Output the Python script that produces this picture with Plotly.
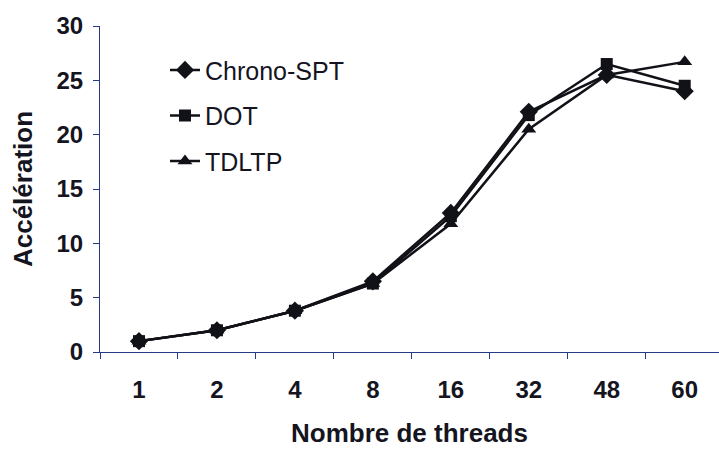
import plotly.graph_objects as go

threads = ["1", "2", "4", "8", "16", "32", "48", "60"]
chrono_spt = [1.0, 2.0, 3.8, 6.5, 12.8, 22.1, 25.5, 24.0]
dot = [1.0, 2.0, 3.8, 6.3, 12.5, 21.8, 26.5, 24.5]
tdltp = [1.0, 2.0, 3.8, 6.3, 11.8, 20.5, 25.5, 26.7]

series = [
    ("Chrono-SPT", chrono_spt, "diamond", 14),
    ("DOT", dot, "square", 12),
    ("TDLTP", tdltp, "triangle-up", 13),
]

fig = go.Figure()
for name, vals, sym, sz in series:
    fig.add_trace(go.Scatter(
        x=threads, y=vals, name=name, mode="lines+markers",
        line=dict(color="#111118", width=2.5),
        marker=dict(symbol=sym, size=sz, color="#111118"),
        legendgroup=name,
    ))

axis_color = "#2a3a8a"
font_fam = "Liberation Sans, Arial, sans-serif"
fig.update_layout(
    width=719, height=451,
    margin=dict(l=100, r=0, t=26, b=99),
    paper_bgcolor="white", plot_bgcolor="white",
    font=dict(family=font_fam, color="#15151f", size=22),
    showlegend=True,
    legend=dict(
        x=0.105, y=0.935, xanchor="left", yanchor="top",
        bgcolor="rgba(0,0,0,0)", borderwidth=0,
        font=dict(size=25, family=font_fam, color="#15151f"),
        tracegroupgap=10,
    ),
    xaxis=dict(
        type="category", range=[-0.5, 7.44],
        showgrid=False, zeroline=False,
        showline=True, linecolor=axis_color, linewidth=1,
        ticks="outside", tickson="boundaries", ticklen=6, tickcolor=axis_color,
        ticklabelstandoff=16,
        tickfont=dict(size=24, family=font_fam, weight="bold"),
        title=dict(text="<b>Nombre de threads</b>", font=dict(size=26), standoff=22),
    ),
    yaxis=dict(
        range=[0, 30], dtick=5,
        showgrid=False, zeroline=False,
        showline=True, linecolor=axis_color, linewidth=1,
        ticks="outside", ticklen=6, tickcolor=axis_color,
        ticklabelstandoff=5,
        tickfont=dict(size=24, family=font_fam, weight="bold"),
        title=dict(text="<b>Accélération</b>", font=dict(size=26), standoff=16),
    ),
)

fig.write_html("out.html")
